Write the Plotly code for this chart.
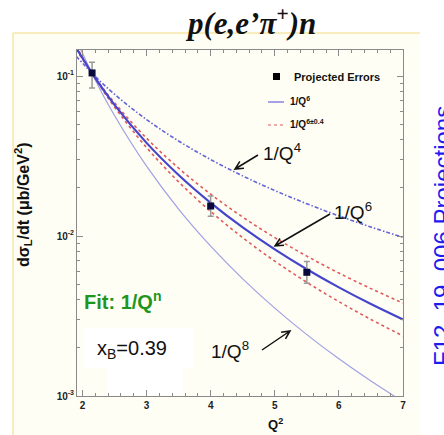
import math
import plotly.graph_objects as go

# ---------------- data ----------------
q2_grid = [1.9, 2.2, 2.5, 3.0, 3.5, 4.0, 4.5, 5.0, 5.5, 6.0, 6.5, 7.0]
curve_q4 = [0.1332, 0.09936, 0.07694, 0.05343, 0.03926, 0.03005, 0.02375, 0.01924, 0.01590, 0.01336, 0.01138, 0.00981]
curve_q6 = [0.1504, 0.09687, 0.06602, 0.03820, 0.02406, 0.01612, 0.01132, 0.008252, 0.00620, 0.004775, 0.003756, 0.003007]
curve_q8 = [0.1698, 0.09445, 0.05664, 0.02732, 0.01474, 0.008643, 0.005396, 0.00354, 0.002418, 0.001707, 0.00124, 0.000922]
curve_q6_minus = [0.1468, 0.09737, 0.06807, 0.04086, 0.02653, 0.01826, 0.01313, 0.009774, 0.007485, 0.005866, 0.004689, 0.00381]
curve_q6_plus = [0.1541, 0.09638, 0.06403, 0.03573, 0.02181, 0.01423, 0.009761, 0.006967, 0.005136, 0.003887, 0.003009, 0.002374]

q2_points = [2.15, 4.0, 5.5]
xsec_points = [0.1045, 0.0154, 0.00593]
err_up = [0.0175, 0.0024, 0.00101]
err_down = [0.0205, 0.0021, 0.00087]

x_ticks = [2, 3, 4, 5, 6, 7]
y_ticks = [0.001, 0.01, 0.1]
y_ticktext = ["10<sup>-3</sup>", "10<sup>-2</sup>", "10<sup>-1</sup>"]
y_minor = [m * 10.0 ** e for e in (-3, -2, -1) for m in range(2, 10) if m * 10.0 ** e < 0.146]
x_minor = [round(2 + 0.2 * i, 1) for i in range(26)]

# ---------------- geometry helpers ----------------
W, H = 444, 435
L, R, T, B = 77, 403, 50, 396


def px(x):
    return (x - L) / (R - L)


def py(y):
    return (B - y) / (B - T)


fig = go.Figure()

fig.add_trace(go.Scatter(x=q2_grid, y=curve_q8, mode="lines", line=dict(color="#a0a0e6", width=1.2, shape="spline"), showlegend=False))
fig.add_trace(go.Scatter(x=q2_grid, y=curve_q4, mode="lines", line=dict(color="#6464d8", width=1.6, dash="4px,2px,1.5px,2px", shape="spline"), showlegend=False))
fig.add_trace(go.Scatter(x=q2_grid, y=curve_q6_minus, mode="lines", line=dict(color="#e05a5a", width=1.6, dash="dot", shape="spline"), showlegend=False))
fig.add_trace(go.Scatter(x=q2_grid, y=curve_q6_plus, mode="lines", line=dict(color="#e05a5a", width=1.6, dash="dot", shape="spline"), showlegend=False))
fig.add_trace(go.Scatter(x=q2_grid, y=curve_q6, mode="lines", line=dict(color="#4545cc", width=2.2, shape="spline"), showlegend=False))
fig.add_trace(go.Scatter(
    x=q2_points, y=xsec_points, mode="markers",
    marker=dict(symbol="square", size=7, color="#0a0a3a"),
    error_y=dict(type="data", array=err_up, arrayminus=err_down, color="#999999", thickness=1.5, width=3),
    showlegend=False))

axis_common = dict(
    showline=True, linecolor="#8a8a8a", linewidth=1, mirror="allticks",
    ticks="inside", tickcolor="#8a8a8a", ticklen=6, showgrid=False, zeroline=False,
    tickfont=dict(family="Liberation Sans, Arial", size=10, color="#222222", weight="bold"),
)

fig.update_xaxes(range=[1.915, 7.0], tickmode="array", tickvals=x_ticks,
                 minor=dict(tickmode="array", tickvals=x_minor, ticks="inside", ticklen=3, tickcolor="#8a8a8a"),
                 **axis_common)
fig.update_yaxes(type="log", range=[-3, -0.8375], tickmode="array", tickvals=y_ticks, ticktext=y_ticktext,
                 minor=dict(tickmode="array", tickvals=y_minor, ticks="inside", ticklen=3, tickcolor="#8a8a8a"),
                 **axis_common)

shapes = []
# cream slide area with yellow frame lines
shapes.append(dict(type="rect", xref="paper", yref="paper", x0=px(13), x1=px(420), y0=py(435), y1=py(33),
                   fillcolor="#fefef5", line=dict(width=0), layer="below"))
shapes.append(dict(type="line", xref="paper", yref="paper", x0=px(13), x1=px(420), y0=py(33), y1=py(33),
                   line=dict(color="#f6e7a6", width=1.5)))
shapes.append(dict(type="line", xref="paper", yref="paper", x0=px(13), x1=px(13), y0=py(33), y1=py(435),
                   line=dict(color="#f6e7a6", width=1.5)))
# white label boxes
shapes.append(dict(type="rect", xref="paper", yref="paper", x0=px(84), x1=px(193), y0=py(368), y1=py(328),
                   fillcolor="white", line=dict(width=0), layer="below"))
shapes.append(dict(type="rect", xref="paper", yref="paper", x0=px(107), x1=px(183), y0=py(395), y1=py(368),
                   fillcolor="white", line=dict(width=0), layer="below"))

# legend samples
shapes.append(dict(type="rect", xref="paper", yref="paper", x0=px(273), x1=px(280), y0=py(80), y1=py(73),
                   fillcolor="#000000", line=dict(width=0)))
shapes.append(dict(type="line", xref="paper", yref="paper", x0=px(268), x1=px(284), y0=py(102), y1=py(102),
                   line=dict(color="#6464d8", width=1.2)))
shapes.append(dict(type="line", xref="paper", yref="paper", x0=px(268), x1=px(284), y0=py(125), y1=py(125),
                   line=dict(color="#e05a5a", width=1.2, dash="dot")))


def arrow(x0, y0, x1, y1, head=9):
    ang = math.atan2(y0 - y1, x0 - x1)
    pts = [(x1 + head * math.cos(ang + d), y1 + head * math.sin(ang + d)) for d in (0.45, -0.45)]
    path = (f"M {px(x0)},{py(y0)} L {px(x1)},{py(y1)} "
            f"M {px(pts[0][0])},{py(pts[0][1])} L {px(x1)},{py(y1)} L {px(pts[1][0])},{py(pts[1][1])}")
    return dict(type="path", xref="paper", yref="paper", path=path, line=dict(color="#111111", width=1.5))


shapes.append(arrow(258, 155, 235, 169))
shapes.append(arrow(330, 214, 275, 246))
shapes.append(arrow(262, 350, 290, 331))

annotations = []


def text(x, y, s, size, color="#111111", xanchor="left", weight="normal", family="Liberation Sans, Arial", angle=0, style="normal"):
    annotations.append(dict(xref="paper", yref="paper", x=px(x), y=py(y), text=s, showarrow=False,
                            xanchor=xanchor, yanchor="middle", textangle=angle,
                            font=dict(size=size, color=color, family=family, weight=weight, style=style)))


text(250, 21, "p(e,e’π<sup>+</sup>)n", 31, color="#111111", xanchor="center", weight="bold",
     family="Liberation Serif, Times New Roman", style="italic")
text(442, 236, "F12–19–006 Projections", 24, color="#1c1cf0", xanchor="center", angle=-90)
text(23, 205, "dσ<sub>L</sub>/dt (μb/GeV<sup>2</sup>)", 16, xanchor="center", weight="bold", angle=-90)
text(275, 424, "Q<sup>2</sup>", 13, xanchor="center", weight="bold")

text(292, 77, "Projected Errors", 11, weight="bold")
text(288, 101, "1/Q<sup>6</sup>", 10, weight="bold")
text(288, 124, "1/Q<sup>6±0.4</sup>", 10, weight="bold")

text(261, 152, "1/Q<sup>4</sup>", 19)
text(332, 211, "1/Q<sup>6</sup>", 19)
text(209, 350, "1/Q<sup>8</sup>", 19)
text(82, 300, "Fit: 1/Q<sup>n</sup>", 20, color="#1e961e", weight="bold")
text(95, 349, "x<sub>B</sub>=0.39", 20, weight=500)

fig.update_layout(
    width=W, height=H,
    margin=dict(l=L, r=W - R, t=T, b=H - B, pad=0),
    paper_bgcolor="white", plot_bgcolor="#fefef7",
    showlegend=False,
    shapes=shapes, annotations=annotations,
)

fig.write_html("out.html", config={"displayModeBar": False},
               post_script="document.body.style.margin='0px';document.body.style.overflow='hidden';")
